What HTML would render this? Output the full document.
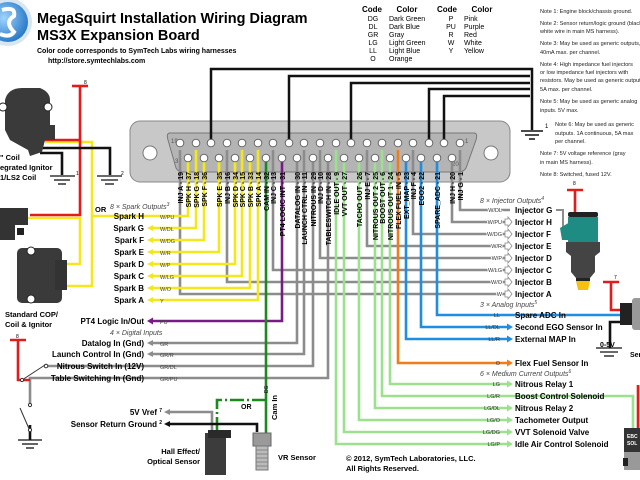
<!DOCTYPE html>
<html><head><meta charset="utf-8"><style>
html,body{margin:0;padding:0;background:#fff;}
svg{display:block;font-family:"Liberation Sans",sans-serif;}
.b{font-weight:bold;}
</style></head><body>
<svg width="640" height="480" viewBox="0 0 640 480" xmlns="http://www.w3.org/2000/svg">
<defs>
<radialGradient id="lg" cx="0.4" cy="0.4" r="0.7"><stop offset="0" stop-color="#9fd4ff"/><stop offset="1" stop-color="#1a6fc0"/></radialGradient>
</defs>
<circle cx="8" cy="22" r="24" fill="#d8e6f0"/>
<circle cx="8" cy="22" r="20" fill="url(#lg)"/>
<path d="M2,10 Q16,6 14,16 Q4,22 14,32 Q10,38 0,34" stroke="#fff" stroke-width="4" fill="none"/>
<text x="37" y="23" class="b" font-size="14.5">MegaSquirt Installation Wiring Diagram</text>
<text x="37" y="40" class="b" font-size="14.5">MS3X Expansion Board</text>
<text x="37" y="53" class="b" font-size="7">Color code corresponds to SymTech Labs wiring harnesses</text>
<text x="48" y="63" class="b" font-size="7">http://store.symtechlabs.com</text>
<g font-size="7">
<text x="372" y="12" class="b" text-anchor="middle" font-size="8">Code</text>
<text x="407" y="12" class="b" text-anchor="middle" font-size="8">Color</text>
<text x="447" y="12" class="b" text-anchor="middle" font-size="8">Code</text>
<text x="482" y="12" class="b" text-anchor="middle" font-size="8">Color</text>
<g text-anchor="middle">
<text x="373" y="21">DG</text><text x="373" y="29">DL</text><text x="373" y="37">GR</text><text x="373" y="45">LG</text><text x="373" y="53">LL</text><text x="373" y="61">O</text>
<text x="451" y="21">P</text><text x="451" y="29">PU</text><text x="451" y="37">R</text><text x="451" y="45">W</text><text x="451" y="53">Y</text>
</g>
<text x="389" y="21">Dark Green</text><text x="389" y="29">Dark Blue</text><text x="389" y="37">Gray</text><text x="389" y="45">Light Green</text><text x="389" y="53">Light Blue</text><text x="389" y="61">Orange</text>
<text x="464" y="21">Pink</text><text x="464" y="29">Purple</text><text x="464" y="37">Red</text><text x="464" y="45">White</text><text x="464" y="53">Yellow</text>
</g>
<g font-size="5.6" fill="#222">
<text x="540" y="13">Note 1: Engine block/chassis ground.</text>
<text x="540" y="25">Note 2: Sensor return/logic ground (black/</text>
<text x="540" y="33">white wire in main MS harness).</text>
<text x="540" y="45">Note 3: May be used as generic outputs,</text>
<text x="540" y="54">40mA max. per channel.</text>
<text x="540" y="66">Note 4: High impedance fuel injectors</text>
<text x="540" y="74">or low impedance fuel injectors with</text>
<text x="540" y="82">resistors. May be used as generic outputs,</text>
<text x="540" y="91">5A max. per channel.</text>
<text x="540" y="103">Note 5: May be used as generic analog</text>
<text x="540" y="112">inputs. 5V max.</text>
<text x="555" y="126">Note 6: May be used as generic</text>
<text x="555" y="135">outputs. 1A continuous, 5A max</text>
<text x="555" y="143">per channel.</text>
<text x="540" y="155">Note 7: 5V voltage reference (gray</text>
<text x="540" y="164">in main MS harness).</text>
<text x="540" y="176">Note 8: Switched, fused 12V.</text>
</g>
<rect x="130" y="121" width="380" height="61" rx="10" fill="#c8c8c8" stroke="#888" stroke-width="1"/>
<path d="M170,133 L474,133 Q478,133 476,140 L466,168 Q464,172 458,172 L184,172 Q178,172 176,168 L168,140 Q166,133 170,133 Z" fill="#b4b4b4" stroke="#777"/>
<circle cx="150" cy="153" r="7" fill="#fff" stroke="#777"/>
<circle cx="491" cy="153" r="7" fill="#fff" stroke="#777"/>
<text x="171" y="143" font-size="6" fill="#555">19</text>
<text x="175" y="163" font-size="6" fill="#555">37</text>
<text x="465" y="143" font-size="6" fill="#555">1</text>
<text x="452" y="166" font-size="6" fill="#555">20</text>
<g stroke="#111" stroke-width="2.5" fill="none">
<path d="M211,143 V69 H532 V130"/>
<path d="M289,143 V76 H530"/>
<path d="M351,143 V83 H530"/>
<path d="M429,143 V89 H530"/>
<path d="M444,143 V96 H530"/>
</g>
<g stroke="#111" stroke-width="1.5"><line x1="521" y1="131" x2="543" y2="131"/><line x1="525" y1="135" x2="539" y2="135"/><line x1="529" y1="139" x2="535" y2="139"/></g>
<text x="545" y="128" font-size="6">1</text>
<g fill="none" stroke-width="2.6">
<g stroke="#8c8c8c">
<path d="M180,150 V294 H505"/>
<path d="M227,150 V282 H505"/>
<path d="M273,150 V270 H505"/>
<path d="M320,150 V258 H505"/>
<path d="M367,150 V246 H505"/>
<path d="M413,150 V234 H505"/>
<path d="M452,160 V222 H505"/>
<path d="M460,150 V210 H510"/>
<path d="M297,160 V343 H152"/>
<path d="M304,150 V354 H152"/>
<path d="M313,160 V366 H47"/>
<path d="M328,160 V378 H30 V405"/>
<path d="M212,440 V412 H168"/>
</g>
<g stroke="#f4e81c">
<path d="M188,160 V216 H92"/>
<path d="M196,150 V228 H152"/>
<path d="M204,160 V240 H152"/>
<path d="M219,160 V252 H152"/>
<path d="M235,160 V264 H152"/>
<path d="M242,150 V276 H152"/>
<path d="M250,160 V288 H152"/>
<path d="M258,150 V300 H152"/>
<path d="M45,142 H92 V286 H62"/>
<path d="M28,218 H80 V264 H62"/>
</g>
<path d="M282,160 V321 H152" stroke="#7a1a86"/>
<path d="M266,160 V435" stroke="#1c8a1c"/>
<path d="M266,400 H217 V437" stroke="#1c8a1c" stroke-dasharray="14,3,2,3"/>
<g stroke="#9ae38c">
<path d="M390,160 V384 H508"/>
<path d="M382,150 V396 H633 V428"/>
<path d="M375,160 V408 H508"/>
<path d="M359,160 V420 H508"/>
<path d="M344,160 V432 H508"/>
<path d="M336,150 V444 H508"/>
</g>
<path d="M398,150 V363 H508" stroke="#f07d1a"/>
<g stroke="#1f8de0">
<path d="M437,160 V315 H622"/>
<path d="M421,160 V327 H508"/>
<path d="M406,160 V339 H508"/>
</g>
<g stroke="#e41b1b">
<path d="M40,140 H80 M80,86 V215 H30"/>
<path d="M72,86 H88"/>
<path d="M575,230 V190 M567,190 H583"/>
<path d="M622,310 H611 V282 M603,282 H619"/>
<path d="M638,385 V428"/>
<path d="M18,340 V380 H30 M10,340 H26"/>
</g>
<g stroke="#111">
<path d="M40,148 H110 V175"/>
<path d="M40,153 H62 V175"/>
<path d="M168,424 H257 V432"/>
<path d="M622,322 H610 V348"/>
<path d="M30,425 V440"/>
</g>
</g>
<g fill="#fff" stroke="#666" stroke-width="1">
<circle cx="180" cy="143" r="3.8"/><circle cx="196" cy="143" r="3.8"/><circle cx="211" cy="143" r="3.8"/><circle cx="227" cy="143" r="3.8"/><circle cx="242" cy="143" r="3.8"/><circle cx="258" cy="143" r="3.8"/><circle cx="273" cy="143" r="3.8"/><circle cx="289" cy="143" r="3.8"/><circle cx="304" cy="143" r="3.8"/><circle cx="320" cy="143" r="3.8"/><circle cx="336" cy="143" r="3.8"/><circle cx="351" cy="143" r="3.8"/><circle cx="367" cy="143" r="3.8"/><circle cx="382" cy="143" r="3.8"/><circle cx="398" cy="143" r="3.8"/><circle cx="413" cy="143" r="3.8"/><circle cx="429" cy="143" r="3.8"/><circle cx="444" cy="143" r="3.8"/><circle cx="460" cy="143" r="3.8"/>
<circle cx="188" cy="158" r="3.8"/><circle cx="204" cy="158" r="3.8"/><circle cx="219" cy="158" r="3.8"/><circle cx="235" cy="158" r="3.8"/><circle cx="250" cy="158" r="3.8"/><circle cx="266" cy="158" r="3.8"/><circle cx="282" cy="158" r="3.8"/><circle cx="297" cy="158" r="3.8"/><circle cx="313" cy="158" r="3.8"/><circle cx="328" cy="158" r="3.8"/><circle cx="344" cy="158" r="3.8"/><circle cx="359" cy="158" r="3.8"/><circle cx="375" cy="158" r="3.8"/><circle cx="390" cy="158" r="3.8"/><circle cx="406" cy="158" r="3.8"/><circle cx="421" cy="158" r="3.8"/><circle cx="437" cy="158" r="3.8"/><circle cx="452" cy="158" r="3.8"/>
</g>
<g font-size="7" class="b" text-anchor="end">
<text transform="translate(183,172) rotate(-90)">INJ A - 19</text>
<text transform="translate(191,172) rotate(-90)">SPK H - 37</text>
<text transform="translate(199,172) rotate(-90)">SPK G - 18</text>
<text transform="translate(207,172) rotate(-90)">SPK F - 36</text>
<text transform="translate(222,172) rotate(-90)">SPK E - 35</text>
<text transform="translate(230,172) rotate(-90)">INJ B - 16</text>
<text transform="translate(238,172) rotate(-90)">SPK D - 34</text>
<text transform="translate(245,172) rotate(-90)">SPK C - 15</text>
<text transform="translate(253,172) rotate(-90)">SPK B - 33</text>
<text transform="translate(261,172) rotate(-90)">SPK A - 14</text>
<text transform="translate(269,172) rotate(-90)">CAM IN - 32</text>
<text transform="translate(276,172) rotate(-90)">INJ C - 13</text>
<text transform="translate(285,172) rotate(-90)">PT4 LOGIC INT - 31</text>
<text transform="translate(300,172) rotate(-90)">DATALOG IN - 30</text>
<text transform="translate(307,172) rotate(-90)">LAUNCH CTRL IN - 11</text>
<text transform="translate(316,172) rotate(-90)">NITROUS IN - 29</text>
<text transform="translate(323,172) rotate(-90)">INJ D - 10</text>
<text transform="translate(331,172) rotate(-90)">TABLESWITCH IN - 28</text>
<text transform="translate(339,172) rotate(-90)">IDLE OUT - 9</text>
<text transform="translate(347,172) rotate(-90)">VVT OUT - 27</text>
<text transform="translate(362,172) rotate(-90)">TACHO OUT - 26</text>
<text transform="translate(370,172) rotate(-90)">INJ E - 7</text>
<text transform="translate(378,172) rotate(-90)">NITROUS OUT 2 - 25</text>
<text transform="translate(385,172) rotate(-90)">BOOST OUT - 6</text>
<text transform="translate(393,172) rotate(-90)">NITROUS OUT 1 - 24</text>
<text transform="translate(401,172) rotate(-90)">FLEX FUEL IN - 5</text>
<text transform="translate(409,172) rotate(-90)">EXT_MAP - 23</text>
<text transform="translate(416,172) rotate(-90)">INJ F - 4</text>
<text transform="translate(424,172) rotate(-90)">EGO2 - 22</text>
<text transform="translate(440,172) rotate(-90)">SPARE_ADC - 21</text>
<text transform="translate(455,172) rotate(-90)">INJ H - 20</text>
<text transform="translate(463,172) rotate(-90)">INJ G - 1</text>
</g>
<g font-size="8" class="b" text-anchor="end">
<text x="144" y="219">Spark H</text><text x="144" y="231">Spark G</text><text x="144" y="243">Spark F</text><text x="144" y="255">Spark E</text><text x="144" y="267">Spark D</text><text x="144" y="279">Spark C</text><text x="144" y="291">Spark B</text><text x="144" y="303">Spark A</text>
<text x="144" y="324">PT4 Logic In/Out</text>
<text x="144" y="346">Datalog In (Gnd)</text>
<text x="144" y="357">Launch Control In (Gnd)</text>
<text x="144" y="369">Nitrous Switch In (12V)</text>
<text x="144" y="381">Table Switching In (Gnd)</text>
<text x="162" y="415">5V Vref <tspan font-size="5" dy="-3">7</tspan></text>
<text x="162" y="427">Sensor Return Ground <tspan font-size="5" dy="-3">2</tspan></text>
</g>
<text x="110" y="209" font-size="7" font-style="italic" fill="#444">8 × Spark Outputs<tspan font-size="5" dy="-3">3</tspan></text>
<text x="110" y="335" font-size="7" font-style="italic" fill="#444">4 × Digital Inputs</text>
<text x="95" y="212" font-size="7.5" class="b">OR</text>
<g font-size="5.5" fill="#444">
<text x="160" y="219">W/PU</text><text x="160" y="231">W/DL</text><text x="160" y="243">W/DG</text><text x="160" y="255">W/R</text><text x="160" y="267">W/P</text><text x="160" y="279">W/LG</text><text x="160" y="291">W/O</text><text x="160" y="303">Y</text>
<text x="160" y="324">PU</text><text x="160" y="346">GR</text><text x="160" y="357">GR/R</text><text x="160" y="369">GR/DL</text><text x="160" y="381">GR/PU</text>
</g>
<g fill="#f4e81c">
<path d="M147,228 l6,-3 v6z"/><path d="M147,240 l6,-3 v6z"/><path d="M147,252 l6,-3 v6z"/><path d="M147,264 l6,-3 v6z"/><path d="M147,276 l6,-3 v6z"/><path d="M147,288 l6,-3 v6z"/><path d="M147,300 l6,-3 v6z"/>
</g>
<path d="M147,321 l6,-3.5 v7z" fill="#7a1a86"/>
<g fill="#8c8c8c"><path d="M147,343 l6,-3 v6z"/><path d="M147,354 l6,-3 v6z"/><path d="M164,412 l6,-3 v6z"/></g>
<path d="M164,424 l6,-3 v6z" fill="#111"/>
<circle cx="46" cy="366" r="1.8" fill="#fff" stroke="#333"/>
<line x1="22" y1="380" x2="45" y2="365" stroke="#333" stroke-width="1"/>
<circle cx="22" cy="380" r="1.6" fill="#fff" stroke="#333"/>
<text x="16" y="338" font-size="5">8</text>
<circle cx="30" cy="405" r="1.6" fill="#fff" stroke="#333"/>
<line x1="20" y1="408" x2="30" y2="431" stroke="#333"/>
<circle cx="30" cy="430" r="1.6" fill="#fff" stroke="#333"/>
<g stroke="#111" stroke-width="1.3"><line x1="18" y1="440" x2="42" y2="440"/><line x1="22" y1="444" x2="38" y2="444"/><line x1="26" y1="448" x2="34" y2="448"/></g>
<g stroke="#111" stroke-width="1.3">
<line x1="50" y1="176" x2="75" y2="176"/><line x1="54" y1="180" x2="70" y2="180"/><line x1="58" y1="184" x2="66" y2="184"/>
<line x1="97" y1="176" x2="122" y2="176"/><line x1="101" y1="180" x2="118" y2="180"/><line x1="105" y1="184" x2="114" y2="184"/>
<line x1="596" y1="348" x2="622" y2="348"/><line x1="600" y1="352" x2="618" y2="352"/><line x1="604" y1="356" x2="614" y2="356"/>
</g>
<text x="76" y="175" font-size="5">1</text><text x="121" y="175" font-size="5">2</text><text x="84" y="84" font-size="5">8</text>
<path d="M5,100 Q8,88 22,88 L40,88 Q50,92 50,100 L50,125 L55,125 L55,140 L45,140 L42,152 L30,156 L28,150 L10,140 L5,130 Z" fill="#3a3a3a"/>
<circle cx="3" cy="107" r="4" fill="#fff" stroke="#222"/><circle cx="48" cy="107" r="4" fill="#fff" stroke="#222"/>
<text x="0" y="160" font-size="7.5" class="b">" Coil</text>
<text x="0" y="170" font-size="7.5" class="b">egrated Ignitor</text>
<text x="0" y="180" font-size="7.5" class="b">1/LS2 Coil</text>
<path d="M0,208 L28,208 L28,225 L15,225 L15,240 L0,240 Z" fill="#333"/>
<rect x="17" y="228" width="7" height="7" fill="#222"/>
<rect x="17" y="248" width="45" height="55" rx="5" fill="#3a3a3a"/>
<circle cx="31" cy="251" r="4" fill="#fff" stroke="#222"/><circle cx="31" cy="299" r="4" fill="#fff" stroke="#222"/>
<rect x="55" y="260" width="12" height="30" fill="#333"/>
<text x="5" y="317" font-size="7.5" class="b">Standard COP/</text>
<text x="5" y="327" font-size="7.5" class="b">Coil &amp; Ignitor</text>
<rect x="205" y="433" width="21" height="42" fill="#3c3c3c"/>
<rect x="208" y="430" width="23" height="8" fill="#2a2a2a"/>
<rect x="253" y="433" width="18" height="13" fill="#9a9a9a" stroke="#666"/>
<rect x="256" y="446" width="12" height="24" fill="#bbb" stroke="#777"/>
<g stroke="#777" stroke-width="0.8"><line x1="256" y1="450" x2="268" y2="450"/><line x1="256" y1="454" x2="268" y2="454"/><line x1="256" y1="458" x2="268" y2="458"/><line x1="256" y1="462" x2="268" y2="462"/><line x1="256" y1="466" x2="268" y2="466"/></g>
<text x="200" y="454" font-size="7.5" class="b" text-anchor="end">Hall Effect/</text>
<text x="200" y="464" font-size="7.5" class="b" text-anchor="end">Optical Sensor</text>
<text x="278" y="460" font-size="7.5" class="b">VR Sensor</text>
<text x="241" y="409" font-size="7" class="b">OR</text>
<text transform="translate(277,420) rotate(-90)" font-size="7.5" class="b">Cam In</text>
<text transform="translate(268,393) rotate(-90)" font-size="5">DG</text>
<text x="480" y="203" font-size="7" font-style="italic" fill="#444">8 × Injector Outputs<tspan font-size="5" dy="-3">4</tspan></text>
<text x="480" y="307" font-size="7" font-style="italic" fill="#444">3 × Analog Inputs<tspan font-size="5" dy="-3">5</tspan></text>
<text x="480" y="376" font-size="7" font-style="italic" fill="#444">6 × Medium Current Outputs<tspan font-size="5" dy="-3">6</tspan></text>
<g font-size="8" class="b">
<text x="515" y="213">Injector G</text><text x="515" y="225">Injector H</text><text x="515" y="237">Injector F</text><text x="515" y="249">Injector E</text><text x="515" y="261">Injector D</text><text x="515" y="273">Injector C</text><text x="515" y="285">Injector B</text><text x="515" y="297">Injector A</text>
<text x="515" y="318">Spare ADC In</text><text x="515" y="330">Second EGO Sensor In</text><text x="515" y="342">External MAP In</text>
<text x="515" y="366">Flex Fuel Sensor In</text>
<text x="515" y="387">Nitrous Relay 1</text><text x="515" y="399">Boost Control Solenoid</text><text x="515" y="411">Nitrous Relay 2</text><text x="515" y="423">Tachometer Output</text><text x="515" y="435">VVT Solenoid Valve</text><text x="515" y="447">Idle Air Control Solenoid</text>
</g>
<g font-size="5.5" fill="#333" text-anchor="end" style="paint-order:stroke" stroke="#fff" stroke-width="2">
<text x="502" y="212">W/DL</text><text x="502" y="224">W/PU</text><text x="502" y="236">W/DG</text><text x="502" y="248">W/R</text><text x="502" y="260">W/P</text><text x="502" y="272">W/LG</text><text x="502" y="284">W/O</text><text x="502" y="296">W</text>
</g>
<g font-size="5.5" fill="#333" text-anchor="end">
<text x="500" y="317">LL</text><text x="500" y="329">LL/DL</text><text x="500" y="341">LL/R</text><text x="500" y="365">O</text>
<text x="500" y="386">LG</text><text x="500" y="398">LG/R</text><text x="500" y="410">LG/DL</text><text x="500" y="422">LG/O</text><text x="500" y="434">LG/DG</text><text x="500" y="446">LG/P</text>
</g>
<g fill="#fff" stroke="#888" stroke-width="0.8">
<path d="M505,219 h3 v-2 l4,5 l-4,5 v-2 h-3z"/><path d="M505,231 h3 v-2 l4,5 l-4,5 v-2 h-3z"/><path d="M505,243 h3 v-2 l4,5 l-4,5 v-2 h-3z"/><path d="M505,255 h3 v-2 l4,5 l-4,5 v-2 h-3z"/><path d="M505,267 h3 v-2 l4,5 l-4,5 v-2 h-3z"/><path d="M505,279 h3 v-2 l4,5 l-4,5 v-2 h-3z"/><path d="M505,291 h3 v-2 l4,5 l-4,5 v-2 h-3z"/>
</g>
<path d="M556,210 H563 V228" stroke="#8c8c8c" stroke-width="2" fill="none"/>
<g fill="#1f8de0"><path d="M513,327 l-6,-3.5 v7z"/><path d="M513,339 l-6,-3.5 v7z"/></g>
<path d="M513,363 l-6,-3.5 v7z" fill="#f07d1a"/>
<g fill="#9ae38c"><path d="M513,384 l-6,-3.5 v7z"/><path d="M513,408 l-6,-3.5 v7z"/><path d="M513,420 l-6,-3.5 v7z"/><path d="M513,432 l-6,-3.5 v7z"/><path d="M513,444 l-6,-3.5 v7z"/></g>
<text x="573" y="185" font-size="5">8</text>
<rect x="568" y="212" width="30" height="5" rx="2" fill="#222"/>
<path d="M568,217 H598 V242 H568 Z" fill="#1f8c84"/>
<path d="M560,228 L570,222 L572,240 L562,240 Z" fill="#1f8c84"/>
<path d="M566,242 H600 V252 L595,256 V272 L590,278 H576 L571,272 V256 L566,252 Z" fill="#444"/>
<rect x="576" y="278" width="14" height="3" fill="#222"/>
<path d="M576,281 H590 L588,290 H578 Z" fill="#f5c010"/>
<text x="614" y="279" font-size="5">7</text>
<rect x="620" y="303" width="12" height="22" fill="#222"/>
<rect x="632" y="298" width="12" height="32" rx="3" fill="#999"/>
<text x="600" y="347" font-size="7" class="b">0-5V</text>
<text x="630" y="357" font-size="7" class="b">Sen</text>
<rect x="624" y="428" width="20" height="40" fill="#333"/>
<rect x="624" y="452" width="20" height="18" fill="#999"/>
<text x="627" y="438" font-size="5" fill="#fff" class="b">EBC</text>
<text x="627" y="445" font-size="5" fill="#fff" class="b">SOL</text>
<path d="M613,462 h10 v-4 h5 v8 h-5 v-4" fill="#222"/>
<text x="346" y="461" font-size="7.5" class="b">© 2012, SymTech Laboratories, LLC.</text>
<text x="346" y="471" font-size="7.5" class="b">All Rights Reserved.</text>
</svg>
</body></html>
